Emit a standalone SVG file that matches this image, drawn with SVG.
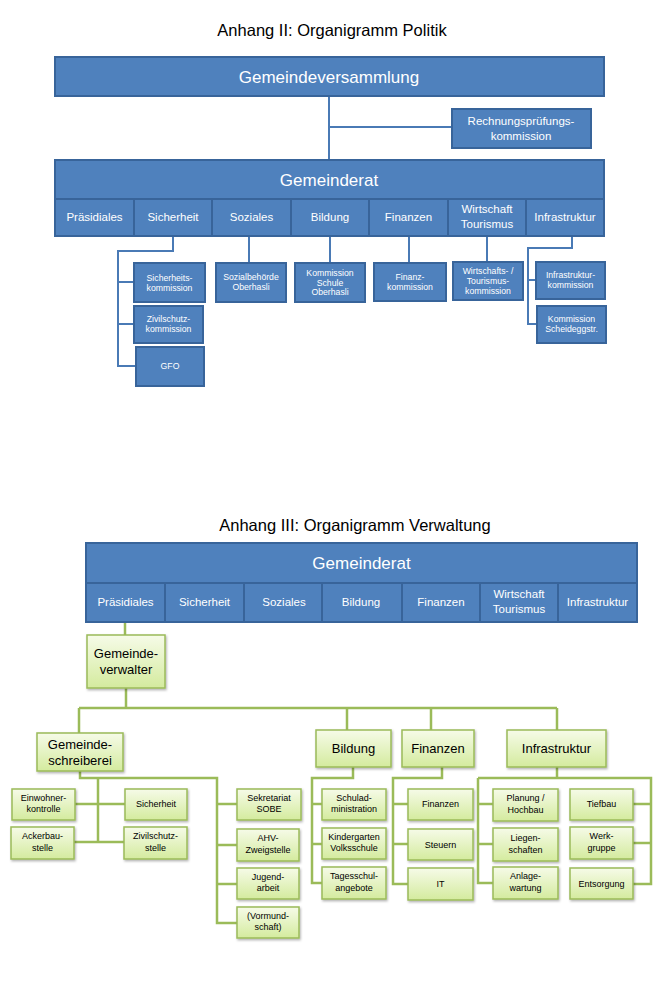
<svg xmlns="http://www.w3.org/2000/svg" width="664" height="996" viewBox="0 0 664 996">
<defs>
<linearGradient id="gg" x1="0" y1="0" x2="0" y2="1">
<stop offset="0" stop-color="#f6fbe8"/>
<stop offset="1" stop-color="#d4eb9e"/>
</linearGradient>
<filter id="sh" x="-10%" y="-10%" width="125%" height="130%">
<feDropShadow dx="1" dy="1.5" stdDeviation="1" flood-color="#000" flood-opacity="0.3"/>
</filter>
<style>
.t{font-family:"Liberation Sans",Arial,sans-serif;text-anchor:middle}
.title{font-size:16.5px;fill:#000}
.b{fill:#4f81bd;stroke:#38649a;stroke-width:2}
.bt{fill:#fff}
.big{font-size:17px}
.mid{font-size:11.5px}
.sm{font-size:8.7px}
.g{fill:url(#gg);stroke:#9bbb59;stroke-width:1.5;filter:url(#sh)}
.gt{fill:#000}
.g1{font-size:13px}
.g2{font-size:9px}
.bc{fill:none;stroke:#4a7ab5;stroke-width:2}
.gc{fill:none;stroke:#9bbb59;stroke-width:2.5}
</style>
</defs>
<rect width="664" height="996" fill="#fff"/>

<text class="t title" x="332" y="36">Anhang II: Organigramm Politik</text>
<text class="t title" x="355" y="531">Anhang III: Organigramm Verwaltung</text>

<g id="connectors">
<g id="blue-connectors" class="bc">
<path d="M329 96 V160"/>
<path d="M329 127 H452"/>
<path d="M173 236 V251 H118 V366 H136"/>
<path d="M118 282 H134"/>
<path d="M118 324 H134"/>
<path d="M249 236 V263"/>
<path d="M330 236 V263"/>
<path d="M409 236 V263"/>
<path d="M487 236 V262"/>
<path d="M572 236 V248 H528 V324 H537"/>
<path d="M528 280 H536"/>
</g>
<g id="green-connectors" class="gc">
<path d="M125 622 V635"/>
<path d="M126 688 V708"/>
<path d="M79 708 H557"/>
<path d="M79 708 V733"/>
<path d="M347 708 V730"/>
<path d="M431 708 V730"/>
<path d="M557 708 V730"/>
<path d="M80 771 V778 H217 V923 H237"/>
<path d="M98 778 V842"/>
<path d="M75 804 H125"/>
<path d="M74 842 H124"/>
<path d="M217 804 H237"/>
<path d="M217 845 H237"/>
<path d="M217 884 H237"/>
<path d="M353 767 V778 H312 V883 H322"/>
<path d="M312 804 H322"/>
<path d="M312 844 H322"/>
<path d="M442 767 V778 H393 V884 H408"/>
<path d="M393 804 H408"/>
<path d="M393 844 H408"/>
<path d="M557 767 V778"/>
<path d="M478 778 H651 V884 H633"/>
<path d="M478 778 V883 H493"/>
<path d="M478 804 H493"/>
<path d="M478 844 H493"/>
<path d="M633 804 H651"/>
<path d="M633 843 H651"/>
</g>
</g>

<!-- Politik -->
<g id="gemeindeversammlung"><rect class="b" x="55" y="57" width="549" height="39"/><text class="t bt big" x="329" y="83">Gemeindeversammlung</text></g>
<g id="rechnungspruefung"><rect class="b" x="452" y="109" width="139" height="39"/><text class="t bt mid" x="521" y="125">Rechnungsprüfungs-</text><text class="t bt mid" x="521" y="140">kommission</text></g>
<g id="gemeinderat1"><rect class="b" x="55" y="160" width="549" height="39"/><text class="t bt big" x="329" y="186">Gemeinderat</text></g>
<g id="p-praesidiales"><rect class="b" x="55" y="199" width="79" height="37"/><text class="t bt mid" x="94.5" y="221">Präsidiales</text></g>
<g id="p-sicherheit"><rect class="b" x="134" y="199" width="78" height="37"/><text class="t bt mid" x="173" y="221">Sicherheit</text></g>
<g id="p-soziales"><rect class="b" x="212" y="199" width="79" height="37"/><text class="t bt mid" x="251.5" y="221">Soziales</text></g>
<g id="p-bildung"><rect class="b" x="291" y="199" width="78" height="37"/><text class="t bt mid" x="330" y="221">Bildung</text></g>
<g id="p-finanzen"><rect class="b" x="369" y="199" width="79" height="37"/><text class="t bt mid" x="408.5" y="221">Finanzen</text></g>
<g id="p-wirtschaft"><rect class="b" x="448" y="199" width="78" height="37"/><text class="t bt mid" x="487" y="213">Wirtschaft</text><text class="t bt mid" x="487" y="228">Tourismus</text></g>
<g id="p-infrastruktur"><rect class="b" x="526" y="199" width="78" height="37"/><text class="t bt mid" x="565" y="221">Infrastruktur</text></g>

<g id="sicherheitskommission"><rect class="b" x="134" y="263" width="71" height="39"/><text class="t bt sm" x="169.5" y="281">Sicherheits-</text><text class="t bt sm" x="169.5" y="291">kommission</text></g>
<g id="zivilschutzkommission"><rect class="b" x="134" y="306" width="69" height="37"/><text class="t bt sm" x="168.5" y="322">Zivilschutz-</text><text class="t bt sm" x="168.5" y="332">kommission</text></g>
<g id="gfo"><rect class="b" x="136" y="347" width="68" height="39"/><text class="t bt sm" x="170" y="369">GFO</text></g>
<g id="sozialbehoerde"><rect class="b" x="216" y="263" width="70" height="39"/><text class="t bt sm" x="251" y="280">Sozialbehörde</text><text class="t bt sm" x="251" y="290">Oberhasli</text></g>
<g id="kommission-schule"><rect class="b" x="295" y="263" width="70" height="39"/><text class="t bt sm" x="330" y="276">Kommission</text><text class="t bt sm" x="330" y="285.5">Schule</text><text class="t bt sm" x="330" y="295">Oberhasli</text></g>
<g id="finanzkommission"><rect class="b" x="374" y="263" width="72" height="38"/><text class="t bt sm" x="410" y="280">Finanz-</text><text class="t bt sm" x="410" y="290">kommission</text></g>
<g id="wirtschaftskommission"><rect class="b" x="453" y="262" width="70" height="38"/><text class="t bt sm" x="488" y="274">Wirtschafts- /</text><text class="t bt sm" x="488" y="284">Tourismus-</text><text class="t bt sm" x="488" y="294">kommission</text></g>
<g id="infrastrukturkommission"><rect class="b" x="536" y="262" width="69" height="37"/><text class="t bt sm" x="570.5" y="278">Infrastruktur-</text><text class="t bt sm" x="570.5" y="288">kommission</text></g>
<g id="kommission-scheidegg"><rect class="b" x="537" y="306" width="69" height="37"/><text class="t bt sm" x="571.5" y="322">Kommission</text><text class="t bt sm" x="571.5" y="332">Scheideggstr.</text></g>

<!-- Verwaltung -->
<g id="gemeinderat2"><rect class="b" x="86" y="543" width="551" height="40"/><text class="t bt big" x="361.5" y="569">Gemeinderat</text></g>
<g id="v-praesidiales"><rect class="b" x="86" y="583" width="79" height="39"/><text class="t bt mid" x="125.5" y="606">Präsidiales</text></g>
<g id="v-sicherheit"><rect class="b" x="165" y="583" width="79" height="39"/><text class="t bt mid" x="204.5" y="606">Sicherheit</text></g>
<g id="v-soziales"><rect class="b" x="244" y="583" width="78" height="39"/><text class="t bt mid" x="284" y="606">Soziales</text></g>
<g id="v-bildung"><rect class="b" x="322" y="583" width="80" height="39"/><text class="t bt mid" x="361" y="606">Bildung</text></g>
<g id="v-finanzen"><rect class="b" x="402" y="583" width="78" height="39"/><text class="t bt mid" x="441" y="606">Finanzen</text></g>
<g id="v-wirtschaft"><rect class="b" x="480" y="583" width="78" height="39"/><text class="t bt mid" x="519" y="598">Wirtschaft</text><text class="t bt mid" x="519" y="613">Tourismus</text></g>
<g id="v-infrastruktur"><rect class="b" x="558" y="583" width="79" height="39"/><text class="t bt mid" x="597.5" y="606">Infrastruktur</text></g>

<g id="gemeindeverwalter"><rect class="g" x="87" y="635" width="78" height="53"/><text class="t gt g1" x="126" y="658">Gemeinde-</text><text class="t gt g1" x="126" y="674">verwalter</text></g>
<g id="gemeindeschreiberei"><rect class="g" x="37" y="733" width="86" height="38"/><text class="t gt g1" x="80" y="749">Gemeinde-</text><text class="t gt g1" x="80" y="765">schreiberei</text></g>
<g id="g-bildung"><rect class="g" x="316" y="730" width="75" height="37"/><text class="t gt g1" x="353.5" y="753">Bildung</text></g>
<g id="g-finanzen"><rect class="g" x="402" y="730" width="72" height="37"/><text class="t gt g1" x="438" y="753">Finanzen</text></g>
<g id="g-infrastruktur"><rect class="g" x="507" y="730" width="99" height="37"/><text class="t gt g1" x="556.5" y="753">Infrastruktur</text></g>

<g id="einwohnerkontrolle"><rect class="g" x="12" y="789" width="63" height="31"/><text class="t gt g2" x="43.5" y="801">Einwohner-</text><text class="t gt g2" x="43.5" y="812">kontrolle</text></g>
<g id="ackerbaustelle"><rect class="g" x="11" y="827" width="63" height="32"/><text class="t gt g2" x="42.5" y="839">Ackerbau-</text><text class="t gt g2" x="42.5" y="851">stelle</text></g>
<g id="g-sicherheit"><rect class="g" x="125" y="789" width="62" height="31"/><text class="t gt g2" x="156" y="807">Sicherheit</text></g>
<g id="zivilschutzstelle"><rect class="g" x="124" y="827" width="63" height="32"/><text class="t gt g2" x="155.5" y="839">Zivilschutz-</text><text class="t gt g2" x="155.5" y="851">stelle</text></g>
<g id="sekretariat"><rect class="g" x="237" y="789" width="64" height="31"/><text class="t gt g2" x="269" y="801">Sekretariat</text><text class="t gt g2" x="269" y="812">SOBE</text></g>
<g id="ahv"><rect class="g" x="237" y="829" width="62" height="32"/><text class="t gt g2" x="268" y="841">AHV-</text><text class="t gt g2" x="268" y="853">Zweigstelle</text></g>
<g id="jugendarbeit"><rect class="g" x="237" y="868" width="62" height="31"/><text class="t gt g2" x="268" y="880">Jugend-</text><text class="t gt g2" x="268" y="891">arbeit</text></g>
<g id="vormundschaft"><rect class="g" x="237" y="907" width="62" height="31"/><text class="t gt g2" x="268" y="919">(Vormund-</text><text class="t gt g2" x="268" y="930">schaft)</text></g>

<g id="schuladministration"><rect class="g" x="322" y="789" width="64" height="31"/><text class="t gt g2" x="354" y="801">Schulad-</text><text class="t gt g2" x="354" y="812">ministration</text></g>
<g id="kindergarten"><rect class="g" x="322" y="828" width="64" height="31"/><text class="t gt g2" x="354" y="840">Kindergarten</text><text class="t gt g2" x="354" y="851">Volksschule</text></g>
<g id="tagesschule"><rect class="g" x="322" y="867" width="64" height="32"/><text class="t gt g2" x="354" y="879">Tagesschul-</text><text class="t gt g2" x="354" y="891">angebote</text></g>

<g id="gg-finanzen"><rect class="g" x="408" y="789" width="65" height="31"/><text class="t gt g2" x="440.5" y="807">Finanzen</text></g>
<g id="steuern"><rect class="g" x="408" y="829" width="65" height="31"/><text class="t gt g2" x="440.5" y="847.5">Steuern</text></g>
<g id="it"><rect class="g" x="408" y="868" width="65" height="32"/><text class="t gt g2" x="440.5" y="887">IT</text></g>

<g id="planung"><rect class="g" x="493" y="789" width="65" height="32"/><text class="t gt g2" x="525.5" y="801">Planung /</text><text class="t gt g2" x="525.5" y="813">Hochbau</text></g>
<g id="liegenschaften"><rect class="g" x="493" y="828" width="65" height="33"/><text class="t gt g2" x="525.5" y="841">Liegen-</text><text class="t gt g2" x="525.5" y="853">schaften</text></g>
<g id="anlagewartung"><rect class="g" x="493" y="867" width="65" height="32"/><text class="t gt g2" x="525.5" y="879">Anlage-</text><text class="t gt g2" x="525.5" y="891">wartung</text></g>
<g id="tiefbau"><rect class="g" x="570" y="789" width="63" height="31"/><text class="t gt g2" x="601.5" y="807">Tiefbau</text></g>
<g id="werkgruppe"><rect class="g" x="570" y="827" width="63" height="32"/><text class="t gt g2" x="601.5" y="839">Werk-</text><text class="t gt g2" x="601.5" y="851">gruppe</text></g>
<g id="entsorgung"><rect class="g" x="570" y="868" width="63" height="31"/><text class="t gt g2" x="601.5" y="886.5">Entsorgung</text></g>
</svg>
